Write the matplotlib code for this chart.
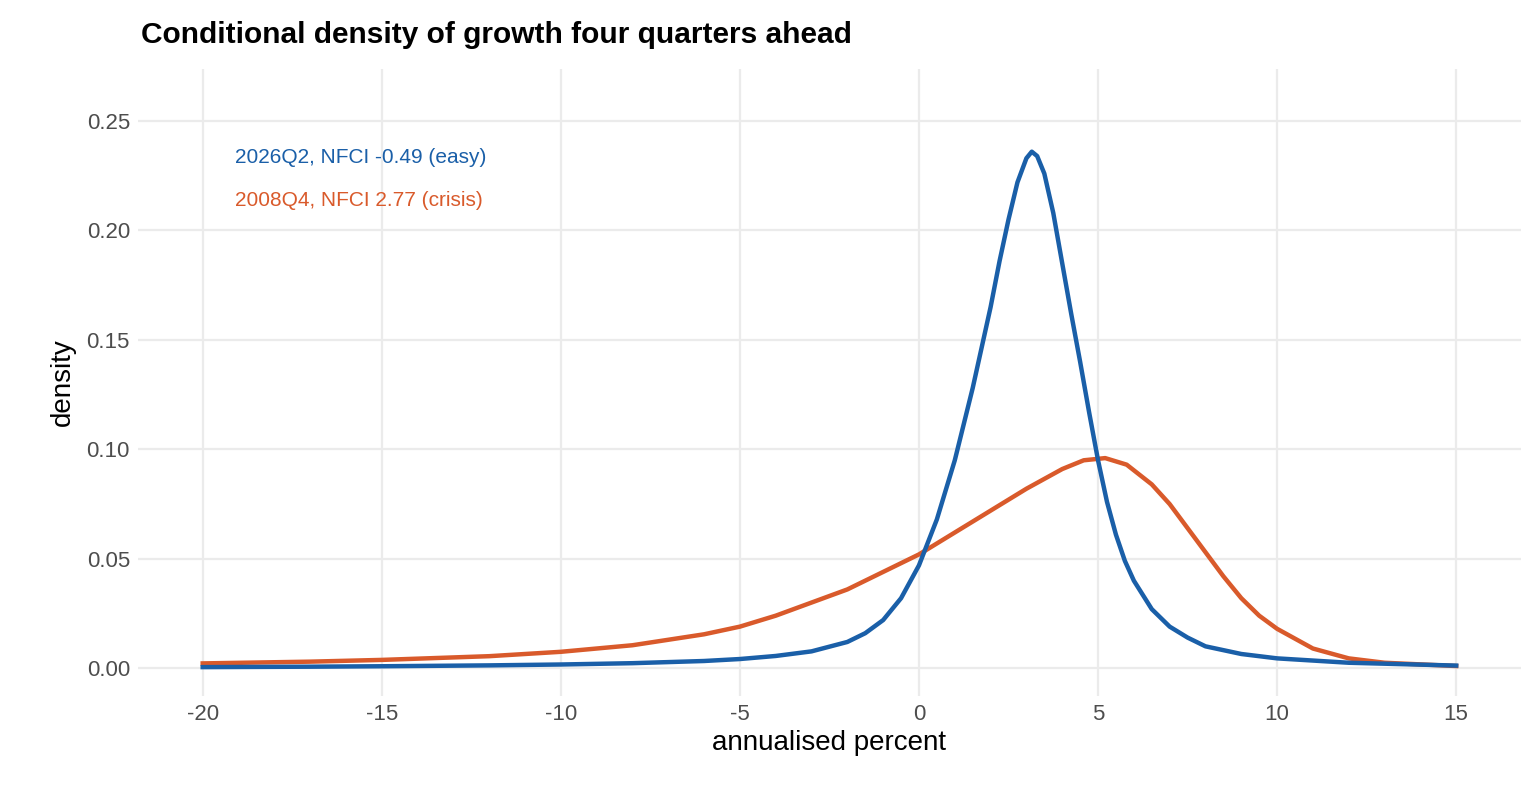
import numpy as np
import matplotlib.pyplot as plt

plt.rcParams['font.family'] = ['Liberation Sans', 'DejaVu Sans']

# values
x_easy = [-20, -17, -15, -12, -10, -8, -6, -5, -4, -3, -2, -1.5, -1, -0.5, 0, 0.5, 1, 1.5, 2, 2.25, 2.5, 2.75, 3.0, 3.15, 3.3, 3.5, 3.75, 4, 4.25, 4.5, 4.75, 5, 5.25, 5.5, 5.75, 6, 6.5, 7, 7.5, 8, 9, 10, 12, 15]
y_easy = [0.0005, 0.0007, 0.0009, 0.0013, 0.0017, 0.0023, 0.0033, 0.0042, 0.0056, 0.0077, 0.012, 0.016, 0.022, 0.032, 0.047, 0.068, 0.095, 0.128, 0.165, 0.186, 0.205, 0.222, 0.233, 0.236, 0.234, 0.226, 0.208, 0.185, 0.162, 0.140, 0.117, 0.095, 0.076, 0.061, 0.049, 0.040, 0.027, 0.019, 0.014, 0.010, 0.0065, 0.0045, 0.0025, 0.0012]
x_crisis = [-20, -17, -15, -12, -10, -8, -6, -5, -4, -3, -2, -1, 0, 1, 2, 3, 4, 4.6, 5.2, 5.8, 6.5, 7, 7.5, 8, 8.5, 9, 9.5, 10, 11, 12, 13, 15]
y_crisis = [0.0022, 0.003, 0.0038, 0.0055, 0.0075, 0.0105, 0.0155, 0.019, 0.024, 0.030, 0.036, 0.044, 0.052, 0.062, 0.072, 0.082, 0.091, 0.095, 0.096, 0.093, 0.084, 0.075, 0.064, 0.053, 0.042, 0.032, 0.024, 0.018, 0.009, 0.0045, 0.0025, 0.001]

blue = '#1a5fa8'
red = '#d95a2b'

fig, ax = plt.subplots(figsize=(15.36, 8.06), dpi=100)
fig.subplots_adjust(left=0.09, right=0.99, top=0.915, bottom=0.137)

ax.plot(x_crisis, y_crisis, color=red, lw=3.2)
ax.plot(x_easy, y_easy, color=blue, lw=3.2)

ax.set_xlim(-21.8, 16.8)
ax.set_ylim(-0.0125, 0.274)
ax.set_xticks([-20, -15, -10, -5, 0, 5, 10, 15])
ax.set_xticklabels(['-20', '-15', '-10', '-5', '0', '5', '10', '15'])
ax.set_yticks([0, 0.05, 0.1, 0.15, 0.2, 0.25])
ax.set_yticklabels(['0.00', '0.05', '0.10', '0.15', '0.20', '0.25'])
ax.tick_params(length=0, labelsize=16, colors='#4d4d4d', pad=6)
ax.grid(True, color='#ebebeb', lw=1.6)
for s in ax.spines.values():
    s.set_visible(False)

ax.set_xlabel('annualised percent', fontsize=20, labelpad=4)
ax.set_ylabel('density', fontsize=20, labelpad=8)
fig.text(0.092, 0.957, 'Conditional density of growth four quarters ahead',
         fontsize=21.5, fontweight='bold', va='center')

ax.text(-19.1, 0.2335, '2026Q2, NFCI -0.49 (easy)', color=blue, fontsize=15, va='center')
ax.text(-19.1, 0.2135, '2008Q4, NFCI 2.77 (crisis)', color=red, fontsize=15, va='center')

plt.savefig('out.png')
